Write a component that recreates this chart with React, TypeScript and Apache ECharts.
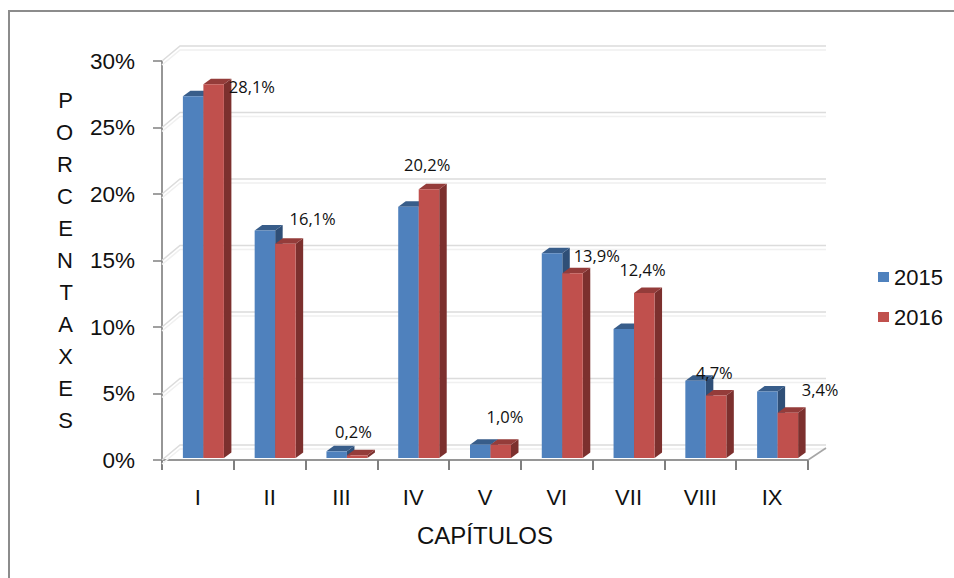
import React, { useEffect, useRef } from "react";
import * as echarts from "echarts";

const categories = ["I", "II", "III", "IV", "V", "VI", "VII", "VIII", "IX"];
const values2015 = [27.2, 17.1, 0.5, 18.9, 1.0, 15.4, 9.7, 5.8, 5.0];
const values2016 = [28.1, 16.1, 0.2, 20.2, 1.0, 13.9, 12.4, 4.7, 3.4];
const labels2016 = ["28,1%", "16,1%", "0,2%", "20,2%", "1,0%", "13,9%", "12,4%", "4,7%", "3,4%"];
const yTicks = [0, 5, 10, 15, 20, 25, 30];
const yTitle = "P\nO\nR\nC\nE\nN\nT\nA\nX\nE\nS";
const xTitle = "CAPÍTULOS";

// Label anchor offsets from the top-right corner of each 2016 bar (label placement only).
const labelShift: [number, number][] = [
  [28, 2], [17, -25], [-14, -24], [-12, -25], [-6, -28], [14, -18], [-12, -24], [-12, -23], [22, -23],
];

const FONT = "'Liberation Sans', Arial, sans-serif";
const LABEL_FONT = "'Open Sans', 'DejaVu Sans', sans-serif";
const BAR_W = 20.5;
const DX = 7.5;
const DY = 5.5;

function barSeries(name: string, values: number[], order: number, front: string, top: string, side: string, withLabel: boolean) {
  return {
    name,
    type: "custom",
    z: 5 + order,
    clip: false,
    itemStyle: { color: front },
    encode: { x: 0, y: 1 },
    data: values.map((v, i) => [i, v]),
    renderItem: (params: any, api: any) => {
      const i = api.value(0);
      const v = api.value(1);
      const [cx, y0Raw] = api.coord([i, 0]);
      const [, yRaw] = api.coord([i, v]);
      const y0 = y0Raw - 2;
      const y1 = yRaw - 2;
      const x0 = cx - 15 + order * BAR_W;
      const x1 = x0 + BAR_W;
      const children: any[] = [
        { type: "polygon", shape: { points: [[x1, y0], [x1 + DX, y0 - DY], [x1 + DX, y1 - DY], [x1, y1]] }, style: { fill: side } },
        { type: "polygon", shape: { points: [[x0, y1], [x0 + DX, y1 - DY], [x1 + DX, y1 - DY], [x1, y1]] }, style: { fill: top } },
        { type: "rect", shape: { x: x0, y: y1, width: BAR_W, height: y0 - y1 }, style: { fill: front } },
      ];
      if (withLabel) {
        const [sx, sy] = labelShift[i];
        children.push({
          type: "text",
          z2: 10,
          style: {
            x: x1 + sx,
            y: y1 + sy,
            text: labels2016[i],
            fill: "#111",
            font: `16.5px ${LABEL_FONT}`,
            align: "center",
            verticalAlign: "middle",
          },
        });
      }
      return { type: "group", children };
    },
  };
}

const wallSeries = {
  name: "wall",
  type: "custom",
  z: 1,
  silent: true,
  clip: false,
  encode: { x: 0, y: 1 },
  data: yTicks.map((t) => [0, t]),
  renderItem: (params: any, api: any) => {
    const [, y] = api.coord([0, api.value(1)]);
    const x0 = params.coordSys.x;
    const x1 = x0 + params.coordSys.width;
    const isFloor = api.value(1) === 0;
    const mk = (dy: number, color: string) => ({
      type: "polyline",
      shape: { points: [[x0, y + dy], [x0 + 18, y - 15 + dy], [x1 + 18, y - 15 + dy]] },
      style: { fill: "none", stroke: color, lineWidth: 1.6 },
    });
    const floorEdge = isFloor
      ? [{ type: "line", shape: { x1, y1: y, x2: x1 + 18, y2: y - 12 }, style: { stroke: "#a6a6a6", lineWidth: 1.6 } }]
      : [];
    return { type: "group", children: [mk(4, "#f0f0f0"), mk(0, "#dcdcdc"), ...floorEdge] };
  },
};

const option = {
  animation: false,
  backgroundColor: "#ffffff",
  textStyle: { fontFamily: FONT },
  grid: { left: 162, right: 146, top: 61, bottom: 118 },
  legend: {
    orient: "vertical",
    left: 873,
    top: 261,
    data: ["2015", "2016"],
    icon: "rect",
    itemWidth: 11,
    itemHeight: 10,
    itemGap: 18,
    selectedMode: false,
    textStyle: { fontFamily: FONT, fontSize: 22, color: "#111" },
  },
  xAxis: {
    type: "category",
    data: categories,
    name: xTitle,
    nameLocation: "middle",
    nameGap: 63,
    nameTextStyle: { fontFamily: FONT, fontSize: 24, color: "#111" },
    axisLine: { lineStyle: { color: "#969696", width: 2 } },
    axisTick: { show: true, length: 10, alignWithLabel: false, lineStyle: { color: "#808080", width: 2 } },
    axisLabel: { margin: 26, fontFamily: FONT, fontSize: 22, color: "#111", interval: 0 },
    splitLine: { show: false },
  },
  yAxis: {
    type: "value",
    min: 0,
    max: 30,
    interval: 5,
    name: yTitle,
    nameLocation: "middle",
    nameGap: 89,
    nameRotate: 0,
    nameTextStyle: { fontFamily: FONT, fontSize: 22, color: "#111", lineHeight: 32 },
    axisLine: { show: true, lineStyle: { color: "#969696", width: 2 } },
    axisTick: { show: true, length: 9, lineStyle: { color: "#808080", width: 1.5 } },
    axisLabel: { margin: 27, fontFamily: FONT, fontSize: 22.5, color: "#111", formatter: "{value}%" },
    splitLine: { show: false },
  },
  series: [
    wallSeries,
    barSeries("2015", values2015, 0, "#4F81BD", "#385D8A", "#2F4F77", false),
    barSeries("2016", values2016, 1, "#C0504D", "#943C3A", "#7C302E", true),
  ],
};

export default function App() {
  const ref = useRef<HTMLDivElement>(null);
  useEffect(() => {
    document.body.style.margin = "0";
    const chart = echarts.init(ref.current!, undefined, { renderer: "svg" });
    chart.setOption(option as any);
    return () => chart.dispose();
  }, []);
  return (
    <div style={{ width: 954, height: 578, position: "relative", overflow: "hidden", background: "#fff" }}>
      <div ref={ref} style={{ width: 954, height: 578 }} />
      <div style={{ position: "absolute", left: 8, top: 10, width: 960, height: 580, border: "2px solid #8c8c8c", boxSizing: "border-box", pointerEvents: "none" }} />
    </div>
  );
}
